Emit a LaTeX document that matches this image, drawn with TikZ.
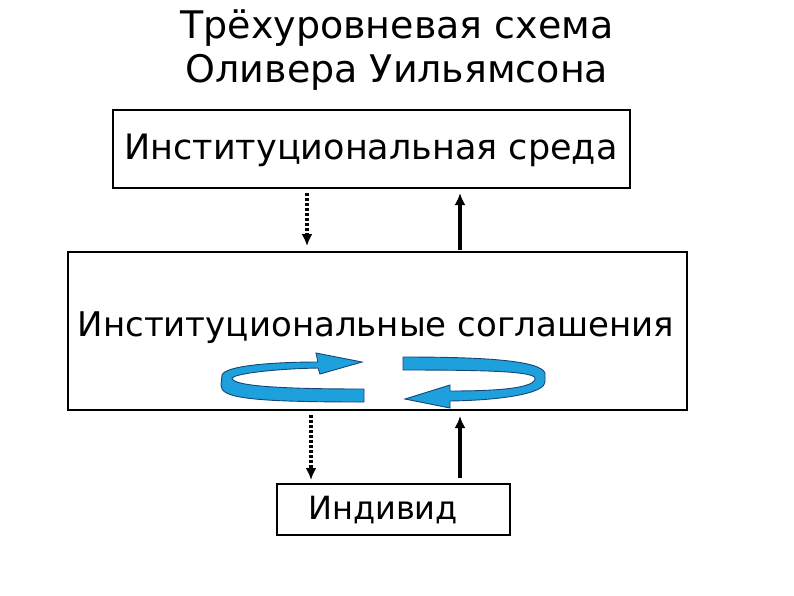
\documentclass[tikz,border=0pt]{standalone}
\usepackage{fontspec}
\setmainfont{DejaVu Sans}
\usetikzlibrary{arrows.meta}
\begin{document}
\begin{tikzpicture}[x=1pt,y=-1pt,
  box/.style={draw,line width=2.2pt},
  txt/.style={inner sep=0pt},
  solid arrow/.style={-{Latex[length=12pt,width=11pt]},line width=3.5pt},
  dot arrow/.style={-{Latex[length=12pt,width=11pt]},line width=3.5pt,dash pattern=on 3pt off 2pt},
  band/.style={fill={rgb,255:red,30;green,160;blue,220},draw={rgb,255:red,20;green,70;blue,120},line width=0.9pt}]
\useasboundingbox (0,0) rectangle (794,595);
\node[txt,align=center,font=\fontsize{38}{44}\selectfont] (title) at (397,50) {Трёхуровневая схема\\Оливера Уильямсона};
\draw[box] (113,110) rectangle (630,188);
\node[txt,font=\fontsize{35}{40}\selectfont] (env) at (371,150) {Институциональная среда};
\draw[box] (68,252) rectangle (687,410);
\node[txt,font=\fontsize{34}{40}\selectfont] (agr) at (376,328) {Институциональные соглашения};
\draw[box] (277,484) rectangle (510,535);
\node[txt,font=\fontsize{32}{38}\selectfont] (ind) at (383,510) {Индивид};
\coordinate (a1) at (307,193); \coordinate (a2) at (307,246);
\coordinate (b1) at (460,250); \coordinate (b2) at (460,193);
\coordinate (c1) at (311,415); \coordinate (c2) at (311,480);
\coordinate (d1) at (460,478); \coordinate (d2) at (460,416);
\draw[dot arrow] (a1) -- (a2);
\draw[solid arrow] (b1) -- (b2);
\draw[dot arrow] (c1) -- (c2);
\draw[solid arrow] (d1) -- (d2);
\path[band] (364,389) -- (364,402) .. controls (250,402) and (220,398) .. (221,385) -- (222,375) .. controls (225,366) and (270,362) .. (318,362) -- (316,353) -- (362,362) -- (320,374) -- (318,368) .. controls (270,369) and (235,374) .. (232,378) .. controls (232,386) and (280,389) .. (364,389) -- cycle;
\path[band] (403,357) -- (403,370) .. controls (500,370) and (540,372) .. (535,380) .. controls (530,388) and (500,391) .. (450,391) -- (450,385) -- (405,399) -- (450,408) -- (450,401) .. controls (510,400) and (545,392) .. (545,382) -- (545,373) .. controls (540,360) and (480,357) .. (403,357) -- cycle;
\end{tikzpicture}
\end{document}
